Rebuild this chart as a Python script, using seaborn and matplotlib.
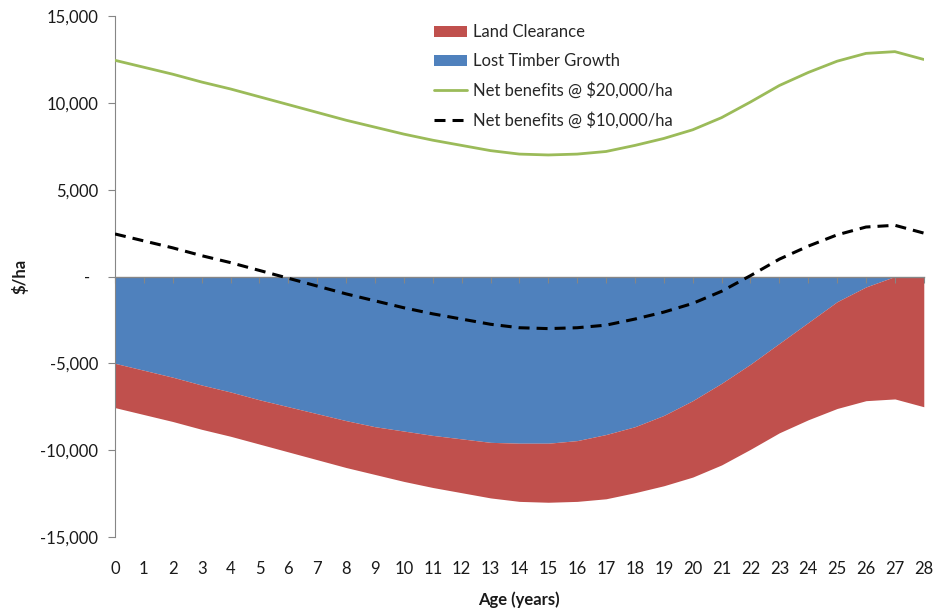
import matplotlib
matplotlib.use("Agg")
import matplotlib.pyplot as plt
import numpy as np
import pandas as pd
import seaborn as sns
from matplotlib.patches import Patch
from matplotlib.lines import Line2D
from matplotlib.ticker import FuncFormatter, MultipleLocator

# Stand age in years
age = list(range(29))

# Cost components ($/ha, negative = cost), stacked below zero
lost_timber_growth = [-5000, -5400, -5800, -6250, -6650, -7100, -7500, -7900, -8300, -8650,
                      -8900, -9150, -9350, -9550, -9600, -9600, -9450, -9100, -8650, -8000,
                      -7150, -6150, -5050, -3850, -2650, -1450, -600, 0, 0]
land_clearance = [-2550, -2550, -2550, -2550, -2550, -2550, -2600, -2650, -2700, -2750,
                  -2900, -3000, -3100, -3200, -3350, -3400, -3500, -3700, -3800, -4050,
                  -4400, -4700, -4900, -5150, -5600, -6150, -6550, -7050, -7500]

# Net benefits at two carbon/land values ($/ha)
net_benefits_20k = [12450, 12050, 11650, 11200, 10800, 10350, 9900, 9450, 9000, 8600,
                    8200, 7850, 7550, 7250, 7050, 7000, 7050, 7200, 7550, 7950,
                    8450, 9150, 10050, 11000, 11750, 12400, 12850, 12950, 12500]
net_benefits_10k = [2450, 2050, 1650, 1200, 800, 350, -100, -550, -1000, -1400,
                    -1800, -2150, -2450, -2750, -2950, -3000, -2950, -2800, -2450, -2050,
                    -1550, -850, 50, 1000, 1750, 2400, 2850, 2950, 2500]

series_labels = ["Land Clearance", "Lost Timber Growth",
                 "Net benefits @ $20,000/ha", "Net benefits @ $10,000/ha"]

RED = "#C0504D"
BLUE = "#4F81BD"
GREEN = "#9BBB59"
GRAY = "#868686"
TEXT = "#1a1a1a"
FS = 12

sns.set_theme(style="white")
plt.rcParams["font.family"] = ["Lato", "DejaVu Sans"]
plt.rcParams["axes.unicode_minus"] = False

df = pd.DataFrame({
    "age": age,
    "timber": lost_timber_growth,
    "clearance": land_clearance,
    "net20": net_benefits_20k,
    "net10": net_benefits_10k,
})

fig = plt.figure(figsize=(9.35, 6.1), dpi=100)
ax = fig.add_axes([0.123, 0.1197, 0.865, 0.854])

timber_edge = df["timber"]
total_edge = df["timber"] + df["clearance"]
ax.fill_between(df["age"], 0, timber_edge, color=BLUE, lw=0, zorder=1)
ax.fill_between(df["age"], timber_edge, total_edge, color=RED, lw=0, zorder=1)

sns.lineplot(data=df, x="age", y="net20", color=GREEN, lw=2.0, ax=ax, zorder=3)
sns.lineplot(data=df, x="age", y="net10", color="black", lw=2.2,
             linestyle=(0, (3.6, 2.3)), ax=ax, zorder=3)

ax.set_xlim(0, 28)
ax.set_ylim(-15000, 15000)
ax.yaxis.set_major_locator(MultipleLocator(5000))
ax.xaxis.set_major_locator(MultipleLocator(1))
ax.yaxis.set_major_formatter(FuncFormatter(lambda v, p: "-  " if v == 0 else f"{v:,.0f}"))

for side in ["top", "right", "bottom"]:
    ax.spines[side].set_visible(False)
ax.spines["left"].set_color(GRAY)
ax.spines["left"].set_linewidth(0.8)

ax.tick_params(axis="y", direction="out", length=5, width=0.8, color=GRAY,
               pad=7, labelsize=FS, labelcolor=TEXT, left=True)
ax.tick_params(axis="x", length=0, pad=17, labelsize=FS, labelcolor=TEXT)

# Category axis line drawn through zero with its ticks
secax = ax.secondary_xaxis(0.5)
secax.set_alignment("bottom")
secax.set_xticks(age)
secax.tick_params(axis="x", direction="out", length=4, width=0.8, color=GRAY,
                  labelbottom=False, bottom=True)
secax.spines["bottom"].set_color(GRAY)
secax.spines["bottom"].set_linewidth(1.0)
secax.set_zorder(2)

ax.set_xlabel("Age (years)", fontsize=FS, fontweight="bold", color=TEXT, labelpad=11)
ax.set_ylabel("$/ha", fontsize=FS, fontweight="bold", color=TEXT)
ax.yaxis.set_label_coords(-0.107, 0.5)

handles = [
    Patch(facecolor=RED, edgecolor="none"),
    Patch(facecolor=BLUE, edgecolor="none"),
    Line2D([0], [0], color=GREEN, lw=2.0),
    Line2D([0], [0], color="black", lw=2.2, linestyle=(0, (3.6, 2.3))),
]
ax.legend(handles=handles, labels=series_labels, loc="upper left",
          bbox_to_anchor=(0.464, 0.960), bbox_transform=fig.transFigure,
          frameon=False, fontsize=FS, handlelength=2.0, handletextpad=0.35,
          labelspacing=0.77, borderpad=0, borderaxespad=0)

fig.savefig("out.png", dpi=100)
